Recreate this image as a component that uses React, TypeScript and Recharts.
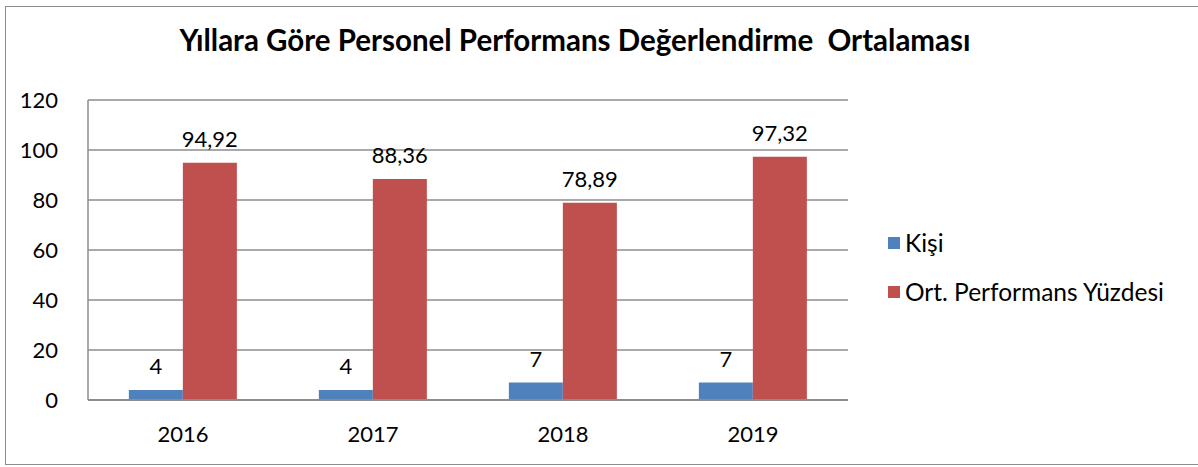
import { BarChart, Bar, XAxis, YAxis, CartesianGrid, LabelList } from 'recharts';

const YEARS = ['2016', '2017', '2018', '2019'];
const KISI = [4, 4, 7, 7];
const PERFORMANS = [94.92, 88.36, 78.89, 97.32];
const Y_TICKS = [0, 20, 40, 60, 80, 100, 120];

const DATA = YEARS.map((year, i) => ({ year, kisi: KISI[i], perf: PERFORMANS[i] }));

const FONT = 'Lato, "Open Sans", sans-serif';
const fmt = (v: any) => String(v).replace('.', ',');

const LEGEND = [
  { label: 'Kişi', color: '#4F81BD' },
  { label: 'Ort. Performans Yüzdesi', color: '#C0504D' },
];

export default function App() {
  return (
    <div style={{ position: 'absolute', left: 0, top: 0, width: 1198, height: 467, background: '#fff' }}>
      <div
        style={{
          position: 'absolute',
          left: 5,
          top: 6,
          width: 1200,
          height: 459,
          border: '1.5px solid #8c8c8c',
          boxSizing: 'border-box',
        }}
      />
      <div
        style={{
          position: 'absolute',
          left: 0,
          top: 22,
          width: 1150,
          textAlign: 'center',
          fontFamily: FONT,
          fontWeight: 'bold',
          fontSize: 29.5,
          whiteSpace: 'pre',
        }}
      >
        {'Yıllara Göre Personel Performans Değerlendirme  Ortalaması'}
      </div>
      <div style={{ position: 'absolute', left: 888, top: 218, fontFamily: FONT, fontSize: 24.5, color: '#000' }}>
        {LEGEND.map((it) => (
          <div key={it.label} style={{ display: 'flex', alignItems: 'center', height: 49, whiteSpace: 'nowrap' }}>
            <span style={{ width: 12, height: 12, background: it.color, marginRight: 5, display: 'inline-block' }} />
            {it.label}
          </div>
        ))}
      </div>
      <div style={{ position: 'absolute', left: 0, top: 0 }}>
        <BarChart
          width={1198}
          height={467}
          data={DATA}
          margin={{ top: 100, right: 350, bottom: 37, left: 28 }}
          barCategoryGap="21.5%"
          barGap={0}
        >
          <CartesianGrid horizontal vertical={false} stroke="#8c8c8c" strokeWidth={1.5} />
          <XAxis
            dataKey="year"
            height={30}
            axisLine={{ stroke: '#8c8c8c', strokeWidth: 2 }}
            tickLine={false}
            tick={{ fill: '#000', fontSize: 22, fontFamily: FONT }}
            tickMargin={20}
          />
          <YAxis
            width={60}
            domain={[0, 120]}
            ticks={Y_TICKS}
            interval={0}
            axisLine={{ stroke: '#8c8c8c', strokeWidth: 1.5 }}
            tickLine={false}
            tick={{ fill: '#000', fontSize: 22, fontFamily: FONT }}
            tickMargin={24}
          />
          <Bar dataKey="kisi" name="Kişi" fill="#4F81BD" isAnimationActive={false}>
            <LabelList dataKey="kisi" position="top" offset={16} fill="#000" fontSize={22} fontFamily={FONT} formatter={fmt} />
          </Bar>
          <Bar dataKey="perf" name="Ort. Performans Yüzdesi" fill="#C0504D" isAnimationActive={false}>
            <LabelList dataKey="perf" position="top" offset={16} fill="#000" fontSize={22} fontFamily={FONT} formatter={fmt} />
          </Bar>
        </BarChart>
      </div>
    </div>
  );
}
